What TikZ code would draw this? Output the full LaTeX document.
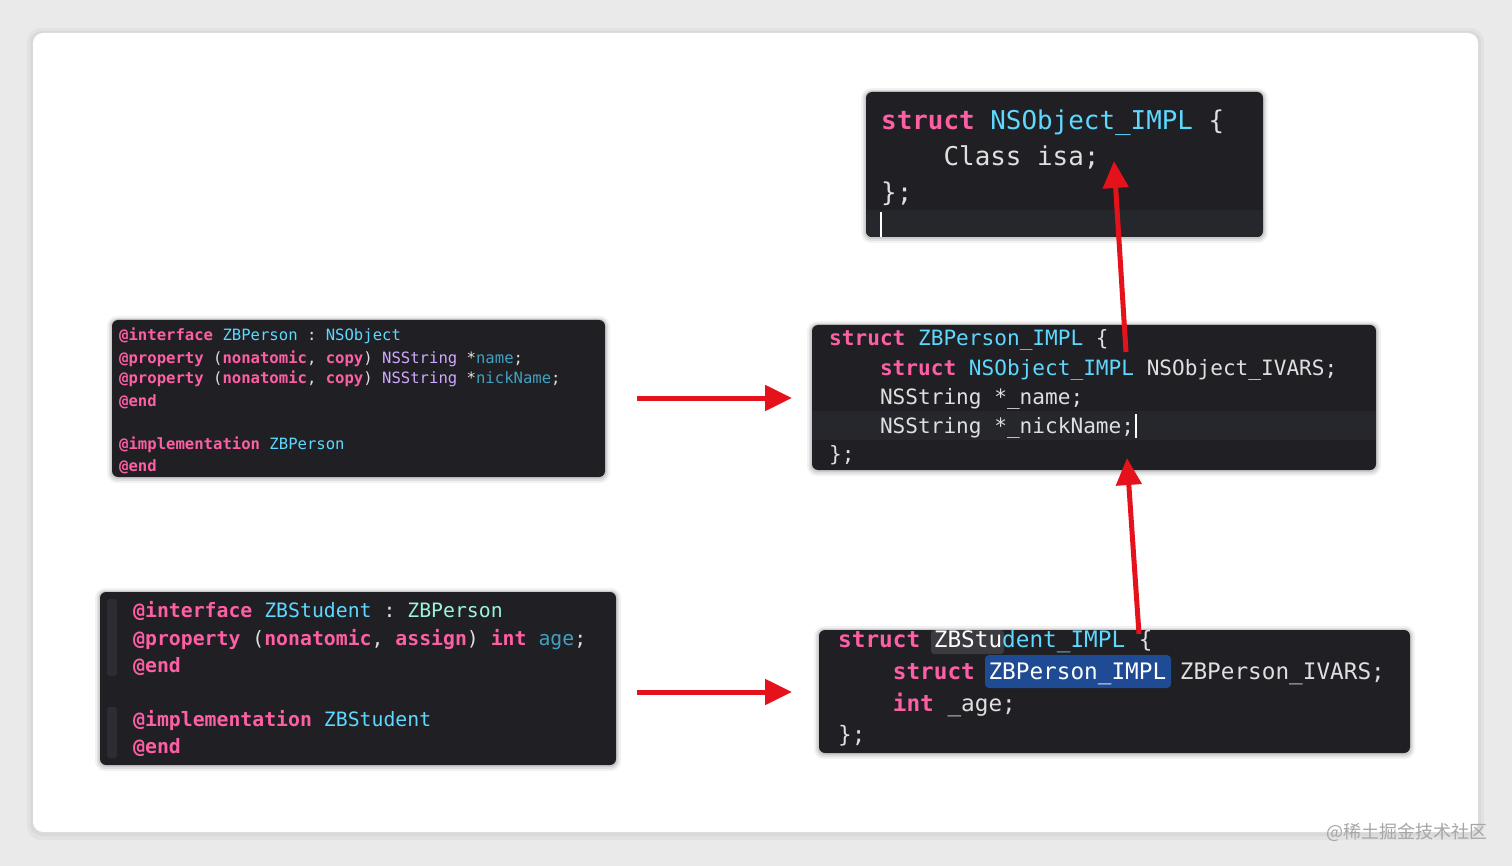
\documentclass[tikz,border=0pt]{standalone}
\usepackage{fontspec}
\setmonofont{DejaVu Sans Mono}
\newfontfamily\cjkfont{Noto Sans CJK SC}
\usetikzlibrary{arrows.meta}
\definecolor{pagebg}{HTML}{EAEAEA}
\definecolor{codebg}{HTML}{1F1F24}
\definecolor{curline}{HTML}{25272D}
\definecolor{gutter}{HTML}{2C2D32}
\definecolor{kwpink}{HTML}{FC5FA3}
\definecolor{tcyan}{HTML}{5DD8FF}
\definecolor{tmint}{HTML}{9EF1DD}
\definecolor{tpurple}{HTML}{D0A8FF}
\definecolor{tteal}{HTML}{41A1C0}
\definecolor{plain}{HTML}{DFDFE0}
\definecolor{arrowred}{HTML}{E5121B}
\definecolor{selgray}{HTML}{3B3B40}
\definecolor{selblue}{HTML}{1E4B93}
\newcommand\kwd[1]{\textcolor{kwpink}{\bfseries #1}}
\newcommand\tcy[1]{\textcolor{tcyan}{#1}}
\newcommand\tmi[1]{\textcolor{tmint}{#1}}
\newcommand\tpu[1]{\textcolor{tpurple}{#1}}
\newcommand\tte[1]{\textcolor{tteal}{#1}}
\newcommand\ind{\hphantom{xxxx}}
\newcommand\softshadow[4]{%
  \fill[black, opacity=0.05, rounded corners=10pt] (#1-5,#2-4) rectangle (#3+5,#4+6);
  \fill[black, opacity=0.07, rounded corners=8pt] (#1-3,#2-2) rectangle (#3+3,#4+4);
  \fill[black, opacity=0.09, rounded corners=7pt] (#1-1.5,#2-1) rectangle (#3+1.5,#4+2);}
\begin{document}
\begin{tikzpicture}[x=1pt,y=-1pt,
  codebox/.style={fill=codebg, rounded corners=6pt, draw=none},
  codeline/.style={anchor=base west, inner sep=0pt, text=plain},
  fA/.style={font=\ttfamily\fontsize{25.9}{30}\selectfont},
  fB/.style={font=\ttfamily\fontsize{15.6}{18}\selectfont},
  fC/.style={font=\ttfamily\fontsize{21.1}{25}\selectfont},
  fD/.style={font=\ttfamily\fontsize{19.8}{23}\selectfont},
  fE/.style={font=\ttfamily\fontsize{22.7}{26}\selectfont},
  redarrow/.style={draw=arrowred, line width=5pt, -{Triangle[length=27pt,width=25pt]}},
  cursorbar/.style={draw=white, line width=1.3pt}]
\useasboundingbox (0,0) rectangle (1512,866);
% page and card
\fill[pagebg] (0,0) rectangle (1512,866);
\fill[black, opacity=0.03, rounded corners=14pt] (27,28) rectangle (1484,840);
\fill[black, opacity=0.04, rounded corners=12pt] (30,31) rectangle (1481,836);
\fill[white, rounded corners=10pt] (33,33) rectangle (1478,832);

% ---------- box 1: NSObject_IMPL ----------
\softshadow{866}{92}{1263}{237}
\path[codebox] (866,92) rectangle (1263,237);
\begin{scope}
\clip[rounded corners=6pt] (866,92) rectangle (1263,237);
\fill[curline] (866,210) rectangle (1263,237);
\end{scope}
\node[codeline,fA] (a1) at (881,130) {\kwd{struct} \tcy{NSObject\_IMPL} \{};
\node[codeline,fA] (a2) at (881,166) {\ind Class isa;};
\node[codeline,fA] (a3) at (881,202) {\};};
\draw[cursorbar] (881,212) -- (881,237);

% ---------- box 2: ZBPerson interface ----------
\softshadow{112}{320}{605}{477}
\path[codebox] (112,320) rectangle (605,477);
\node[codeline,fB] (b1) at (119,341) {\kwd{@interface} \tcy{ZBPerson} : \tcy{NSObject}};
\node[codeline,fB] (b2) at (119,363) {\kwd{@property} (\kwd{nonatomic}, \kwd{copy}) \tpu{NSString} *\tte{name};};
\node[codeline,fB] (b3) at (119,384) {\kwd{@property} (\kwd{nonatomic}, \kwd{copy}) \tpu{NSString} *\tte{nickName};};
\node[codeline,fB] (b4) at (119,406) {\kwd{@end}};
\node[codeline,fB] (b5) at (119,449) {\kwd{@implementation} \tcy{ZBPerson}};
\node[codeline,fB] (b6) at (119,471) {\kwd{@end}};

% ---------- box 3: ZBPerson_IMPL ----------
\softshadow{812}{325}{1376}{470}
\path[codebox] (812,325) rectangle (1376,470);
\fill[curline] (812,411) rectangle (1376,440);
\node[codeline,fC] (c1) at (829,346) {\kwd{struct} \tcy{ZBPerson\_IMPL} \{};
\node[codeline,fC] (c2) at (829,375) {\ind\kwd{struct} \tcy{NSObject\_IMPL} NSObject\_IVARS;};
\node[codeline,fC] (c3) at (829,404) {\ind NSString *\_name;};
\node[codeline,fC] (c4) at (829,433) {\ind NSString *\_nickName;};
\node[codeline,fC] (c5) at (829,461) {\};};
\draw[cursorbar] (1136,414) -- (1136,438);

% ---------- box 4: ZBStudent interface ----------
\softshadow{100}{592}{616}{765}
\path[codebox] (100,592) rectangle (616,765);
\fill[gutter, rounded corners=3pt] (107,599) rectangle (117,676);
\fill[gutter, rounded corners=3pt] (107,707) rectangle (117,758);
\node[codeline,fD] (d1) at (133,617) {\kwd{@interface} \tcy{ZBStudent} : \tmi{ZBPerson}};
\node[codeline,fD] (d2) at (133,645) {\kwd{@property} (\kwd{nonatomic}, \kwd{assign}) \kwd{int} \tte{age};};
\node[codeline,fD] (d3) at (133,672) {\kwd{@end}};
\node[codeline,fD] (d4) at (133,726) {\kwd{@implementation} \tcy{ZBStudent}};
\node[codeline,fD] (d5) at (133,753) {\kwd{@end}};

% ---------- box 5: ZBStudent_IMPL ----------
\softshadow{819}{630}{1410}{753}
\path[codebox] (819,630) rectangle (1410,753);
\fill[selgray, rounded corners=3pt] (931,630) rectangle (1004,654);
\fill[selblue, rounded corners=4pt] (985,655) rectangle (1171,688);
\node[codeline,fE] (e1) at (838,647) {\kwd{struct} \textcolor{white}{ZBStu}\tcy{dent\_IMPL} \{};
\node[codeline,fE] (e2) at (838,679) {\ind\kwd{struct} \textcolor{white}{ZBPerson\_IMPL} ZBPerson\_IVARS;};
\node[codeline,fE] (e3) at (838,711) {\ind\kwd{int} \_age;};
\node[codeline,fE] (e4) at (838,742) {\};};

% ---------- arrows ----------
\coordinate (h1s) at (637,398);
\coordinate (h1e) at (792,398);
\coordinate (h2s) at (637,692);
\coordinate (h2e) at (792,692);
\coordinate (v1s) at (1139,634);
\coordinate (v1e) at (1127,458);
\coordinate (v2s) at (1126,352);
\coordinate (v2e) at (1114,161);
\draw[redarrow] (h1s) -- (h1e);
\draw[redarrow] (h2s) -- (h2e);
\draw[redarrow] (v1s) -- (v1e);
\draw[redarrow] (v2s) -- (v2e);

% watermark
\node[text=black!35, font=\cjkfont\fontsize{18}{20}\selectfont, anchor=east, inner sep=0pt] (wm) at (1488,832) {@稀土掘金技术社区};
\end{tikzpicture}
\end{document}
